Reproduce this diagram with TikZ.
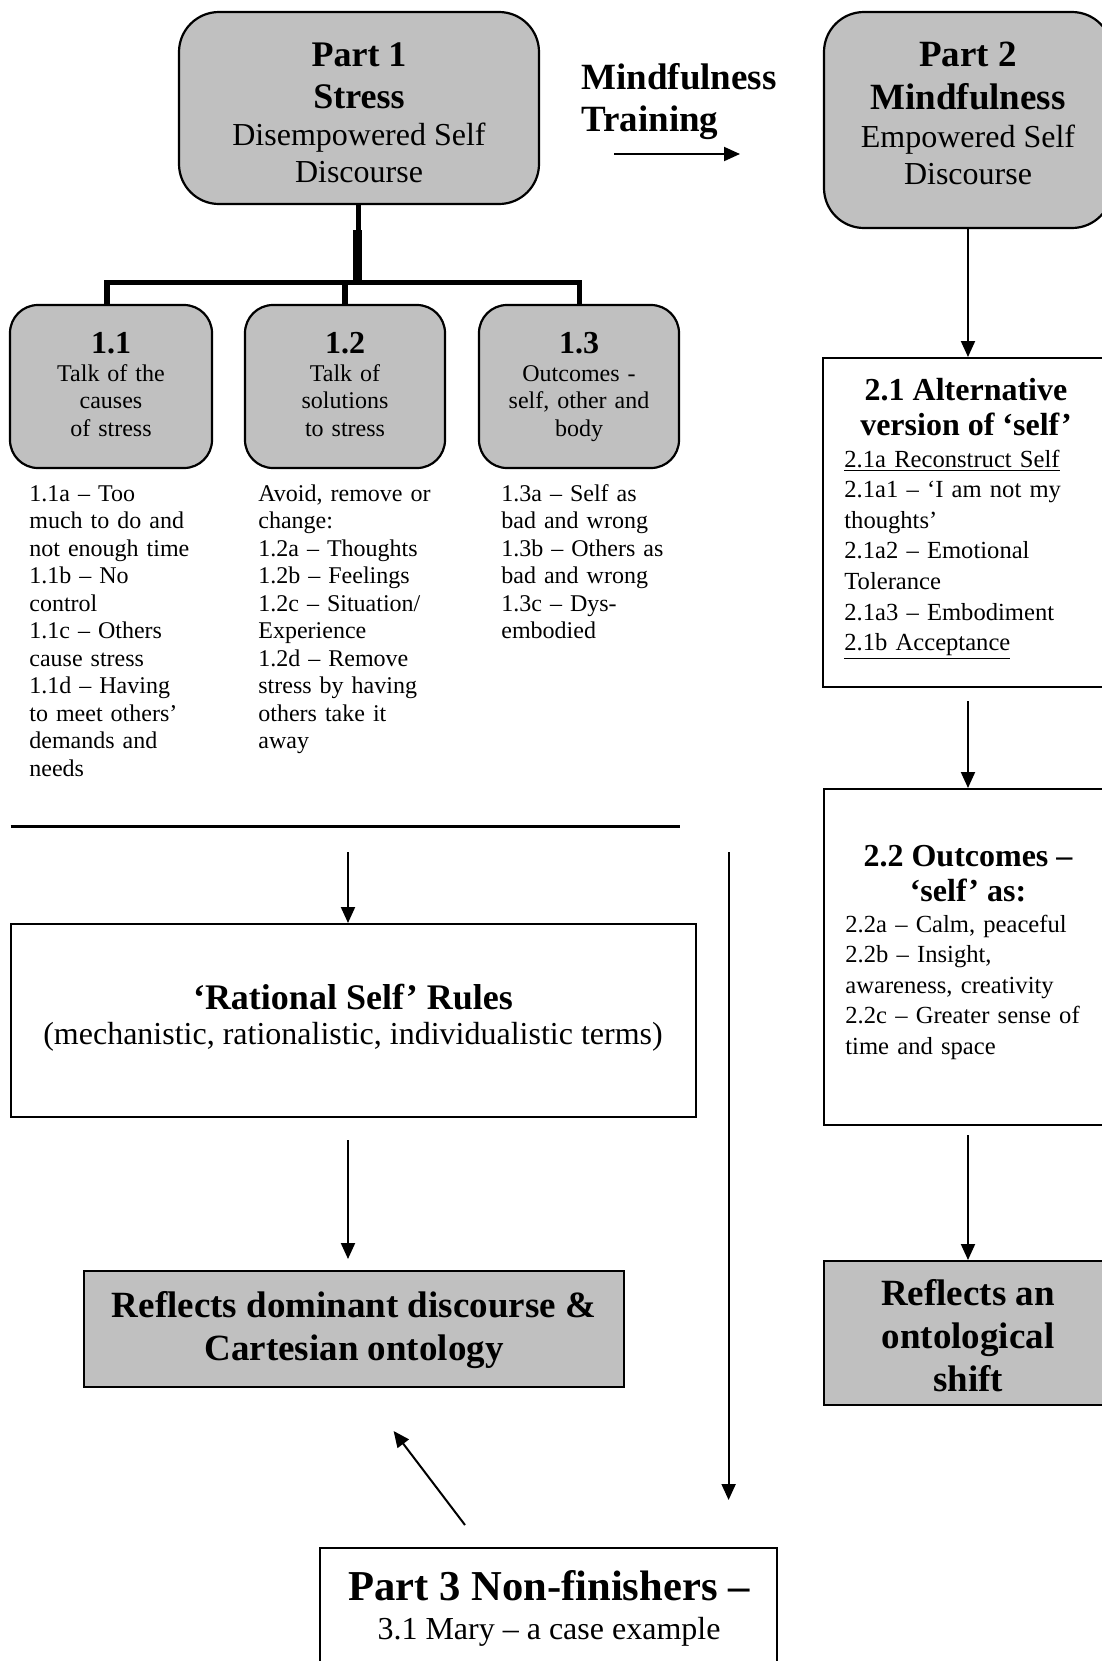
\documentclass[tikz,border=0pt]{standalone}
\usepackage{fontspec}
\setmainfont{Liberation Serif}
\usetikzlibrary{arrows.meta}
\definecolor{boxgray}{HTML}{C0C0C0}
\begin{document}
\begin{tikzpicture}[x=0.5pt,y=-0.5pt,
  rbox/.style={draw, line width=1.1pt, fill=boxgray, inner sep=0pt},
  sbox/.style={draw, line width=1pt, inner sep=0pt},
  arr/.style={line width=1pt, -{Triangle[length=8pt,width=7pt]}},
  bh/.style={inner sep=0pt, anchor=base, font=\bfseries\fontsize{#1}{#1}\selectfont},
  rh/.style={inner sep=0pt, anchor=base, font=\fontsize{#1}{#1}\selectfont},
  bodyc/.style={inner sep=0pt, anchor=base, text width=100pt, align=center, font=\fontsize{12}{13.75}\selectfont},
  lst/.style={inner sep=0pt, anchor=base west, text width=#1, align=left, font=\fontsize{12}{13.75}\selectfont},
  lst2/.style={inner sep=0pt, anchor=base west, text width=#1, align=left, font=\fontsize{12.3}{15.3}\selectfont}
]
\useasboundingbox (0,0) rectangle (1102,1661);

% ---------- boxes ----------
\node[rbox, rounded corners=20pt, minimum width=180pt, minimum height=96pt] (P1) at (359,108) {};
\node[rbox, rounded corners=20pt, minimum width=144pt, minimum height=108pt] (P2) at (968,120) {};
\node[rbox, rounded corners=14pt, minimum width=101pt, minimum height=81.5pt] (B11) at (111,386.5) {};
\node[rbox, rounded corners=14pt, minimum width=100pt, minimum height=81.5pt] (B12) at (345,386.5) {};
\node[rbox, rounded corners=14pt, minimum width=100pt, minimum height=81.5pt] (B13) at (579,386.5) {};
\node[sbox, minimum width=144.5pt, minimum height=164.5pt] (B21) at (967.5,522.5) {};
\node[sbox, minimum width=144pt, minimum height=168pt] (B22) at (968,957) {};
\node[sbox, fill=boxgray, minimum width=144pt, minimum height=72pt] (B23) at (968,1333) {};
\node[sbox, minimum width=342.5pt, minimum height=96.5pt] (RS) at (353,1020.5) {};
\node[sbox, fill=boxgray, minimum width=270.25pt, minimum height=58pt] (DOM) at (353.75,1329) {};
\node[sbox, minimum width=228.5pt, minimum height=66pt] (P3) at (548.5,1614) {};

% ---------- tree connectors ----------
\coordinate (jt) at (358,230);
\coordinate (jb) at (357,283);
\coordinate (bl) at (107,282.5);
\coordinate (bm) at (345,282.5);
\coordinate (br) at (579.5,282.5);
\draw[line width=2.5pt] (P1.south -| jt) -- (jt);
\draw[line width=4.5pt] (jt -| jb) -- (jb);
\draw[line width=2.8pt, line join=miter] (bl |- B11.north) -- (bl) -- (br) -- (br |- B13.north);
\draw[line width=2.8pt] (bm) -- (bm |- B12.north);

% ---------- arrows ----------
\coordinate (m1) at (614,154);
\coordinate (m2) at (740,154);
\draw[arr] (m1) -- (m2);
\draw[arr] (P2.south) -- (P2.south |- B21.north);
\coordinate (c21) at (968,701);
\draw[arr] (c21) -- (c21 |- B22.north);
\coordinate (c22) at (968,1135);
\draw[arr] (c22) -- (c22 |- B23.north);
\coordinate (hl1) at (10.6,826.5);
\coordinate (hl2) at (680,826.5);
\draw[line width=1.5pt] (hl1) -- (hl2);
\coordinate (a1) at (348,852);
\draw[arr] (a1) -- (a1 |- RS.north);
\coordinate (a2t) at (348,1140);
\coordinate (a2h) at (348,1259);
\draw[arr] (a2t) -- (a2h);
\coordinate (dg1) at (465,1525);
\coordinate (dg2) at (393.6,1431);
\draw[arr] (dg1) -- (dg2);
\coordinate (lv1) at (728.6,852);
\coordinate (lv2) at (728.6,1500);
\draw[arr] (lv1) -- (lv2);

% ---------- texts: Part 1 ----------
\node[bh=18] (p1a) at (359,66) {Part 1};
\node[bh=18] (p1b) at (359,108) {Stress};
\node[rh=16] (p1c) at (359,145) {Disempowered Self};
\node[rh=16] (p1d) at (359,182) {Discourse};

% ---------- Mindfulness Training ----------
\node[bh=18.5, anchor=base west] (mt1) at (581,89) {Mindfulness};
\node[bh=18.5, anchor=base west] (mt2) at (581,131) {Training};

% ---------- Part 2 ----------
\node[bh=18.5] (p2a) at (968,66) {Part 2};
\node[bh=18.5] (p2b) at (968,109) {Mindfulness};
\node[rh=16] (p2c) at (968,147) {Empowered Self};
\node[rh=16] (p2d) at (968,184) {Discourse};

% ---------- 1.x boxes ----------
\node[bh=16] (h11) at (111,353) {1.1};
\node[bodyc] (t11) at (111,381) {Talk of the\\causes\\of stress};
\node[bh=16] (h12) at (345,353) {1.2};
\node[bodyc] (t12) at (345,381) {Talk of\\solutions\\to stress};
\node[bh=16] (h13) at (579,353) {1.3};
\node[bodyc] (t13) at (579,381) {Outcomes -\\self, other and\\body};

% ---------- 1.x lists ----------
\node[lst=100pt] (l11) at (29,501) {1.1a – Too\\much to do and\\not enough time\\1.1b – No\\control\\1.1c – Others\\cause stress\\1.1d – Having\\to meet others’\\demands and\\needs};
\node[lst=100pt] (l12) at (258,501) {Avoid, remove or\\change:\\1.2a – Thoughts\\1.2b – Feelings\\1.2c – Situation/\\Experience\\1.2d – Remove\\stress by having\\others take it\\away};
\node[lst=100pt] (l13) at (501,501) {1.3a – Self as\\bad and wrong\\1.3b – Others as\\bad and wrong\\1.3c – Dys-\\embodied};

% ---------- 2.1 ----------
\node[bh=16] (h21a) at (966,400) {2.1 Alternative};
\node[bh=16] (h21b) at (966,435) {version of ‘self’};
\node[lst2=130pt] (l21) at (844,467) {\underline{2.1a Reconstruct Self}\\2.1a1 – ‘I am not my\\thoughts’\\2.1a2 – Emotional\\Tolerance\\2.1a3 – Embodiment\\\underline{2.1b Acceptance}};

% ---------- 2.2 ----------
\node[bh=16] (h22a) at (968,866) {2.2 Outcomes –};
\node[bh=16] (h22b) at (968,901) {‘self’ as:};
\node[lst2=130pt] (l22) at (845,932) {2.2a – Calm, peaceful\\2.2b – Insight,\\awareness, creativity\\2.2c – Greater sense of\\time and space};

% ---------- ontological shift ----------
\node[bh=18.5] (o1) at (968,1305) {Reflects an};
\node[bh=18.5] (o2) at (968,1348) {ontological};
\node[bh=18.5] (o3) at (968,1391) {shift};

% ---------- Rational Self ----------
\node[bh=18] (r1) at (353,1009) {‘Rational Self’ Rules};
\node[rh=16] (r2) at (353,1044) {(mechanistic, rationalistic, individualistic terms)};

% ---------- dominant ----------
\node[bh=18.5] (d1) at (354,1317) {Reflects dominant discourse \&};
\node[bh=18.5] (d2) at (354,1360) {Cartesian ontology};

% ---------- Part 3 ----------
\node[bh=21.3] (q1) at (549,1600) {Part 3 Non-finishers –};
\node[rh=16] (q2) at (549,1639) {3.1 Mary – a case example};
\end{tikzpicture}
\end{document}
